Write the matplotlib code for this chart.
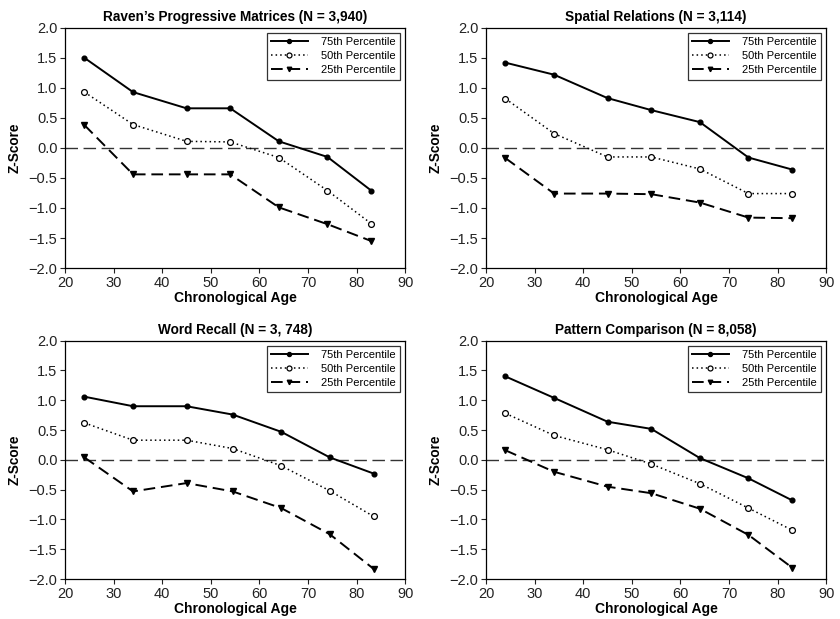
import matplotlib
matplotlib.use('Agg')
import matplotlib.pyplot as plt

plt.rcParams['font.family'] = ['Liberation Sans', 'DejaVu Sans']

# Datos
titles = ["Raven\u2019s Progressive Matrices (N = 3,940)",
          "Spatial Relations (N = 3,114)",
          "Word Recall (N = 3, 748)",
          "Pattern Comparison (N = 8,058)"]

ages = [24, 34, 45, 54, 64, 74, 83]
ages_word = [24, 34, 45, 54.5, 64.5, 74.5, 83.5]

raven_75 = [1.50, 0.93, 0.66, 0.66, 0.11, -0.15, -0.71]
raven_50 = [0.93, 0.39, 0.11, 0.10, -0.16, -0.71, -1.26]
raven_25 = [0.38, -0.44, -0.44, -0.44, -0.99, -1.27, -1.55]

spatial_75 = [1.42, 1.22, 0.83, 0.63, 0.43, -0.16, -0.36]
spatial_50 = [0.82, 0.24, -0.15, -0.15, -0.35, -0.76, -0.76]
spatial_25 = [-0.17, -0.76, -0.76, -0.77, -0.91, -1.16, -1.17]

word_75 = [1.06, 0.90, 0.90, 0.76, 0.47, 0.04, -0.23]
word_50 = [0.62, 0.33, 0.33, 0.19, -0.10, -0.52, -0.95]
word_25 = [0.04, -0.53, -0.39, -0.53, -0.81, -1.25, -1.83]

pattern_75 = [1.40, 1.04, 0.64, 0.52, 0.03, -0.31, -0.68]
pattern_50 = [0.78, 0.41, 0.17, -0.07, -0.40, -0.81, -1.18]
pattern_25 = [0.16, -0.20, -0.45, -0.56, -0.82, -1.26, -1.81]

panels = [
    (ages, raven_75, raven_50, raven_25),
    (ages, spatial_75, spatial_50, spatial_25),
    (ages_word, word_75, word_50, word_25),
    (ages, pattern_75, pattern_50, pattern_25),
]

fig = plt.figure(figsize=(8.4, 6.19), dpi=100, facecolor='white')

# posiciones [izq, abajo, ancho, alto]
posiciones = [
    [0.0774, 0.567, 0.405, 0.388],
    [0.5786, 0.567, 0.405, 0.388],
    [0.0774, 0.0646, 0.405, 0.385],
    [0.5786, 0.0646, 0.405, 0.385],
]

for pos, titulo, (x, p75, p50, p25) in zip(posiciones, titles, panels):
    ax = fig.add_axes(pos)
    ax.axhline(0, color='#333333', linewidth=1.0, dashes=(9, 4), zorder=1)
    ax.plot(x, p75, color='black', linewidth=1.4, marker='o', markersize=3.4,
            label='75th Percentile', zorder=3)
    ax.plot(x, p50, color='black', linewidth=1.1, linestyle=(0, (1, 2)),
            marker='o', markersize=4.2, markerfacecolor='white',
            markeredgewidth=0.9, label='50th Percentile', zorder=3)
    ax.plot(x, p25, color='black', linewidth=1.4, dashes=(6, 3),
            marker='v', markersize=3.8, label='25th Percentile', zorder=3)

    ax.set_xlim(20, 90)
    ax.set_ylim(-2.0, 2.0)
    ax.set_xticks(range(20, 91, 10))
    ax.set_yticks([-2.0, -1.5, -1.0, -0.5, 0.0, 0.5, 1.0, 1.5, 2.0])
    ax.set_yticklabels(['\u22122.0', '\u22121.5', '\u22121.0', '\u22120.5',
                        '0.0', '0.5', '1.0', '1.5', '2.0'])
    ax.tick_params(direction='out', length=3.5, width=0.8, labelsize=10.5,
                   pad=2, colors='#222222')
    for s in ax.spines.values():
        s.set_linewidth(0.9)

    ax.set_title(titulo, fontsize=9.8, fontweight='bold', pad=5)
    ax.set_xlabel('Chronological Age', fontsize=10, fontweight='bold', labelpad=1)
    ax.set_ylabel('Z-Score', fontsize=9.8, fontweight='bold', labelpad=5)

    leg = ax.legend(loc='upper right', fontsize=8, handlelength=3.3,
                    handletextpad=1.2, fancybox=False, edgecolor='#333333',
                    framealpha=1, borderaxespad=0.45, labelspacing=0.35,
                    borderpad=0.4, markerscale=0.85)
    leg.get_frame().set_linewidth(0.9)

plt.savefig('out.png', dpi=100, facecolor='white')
